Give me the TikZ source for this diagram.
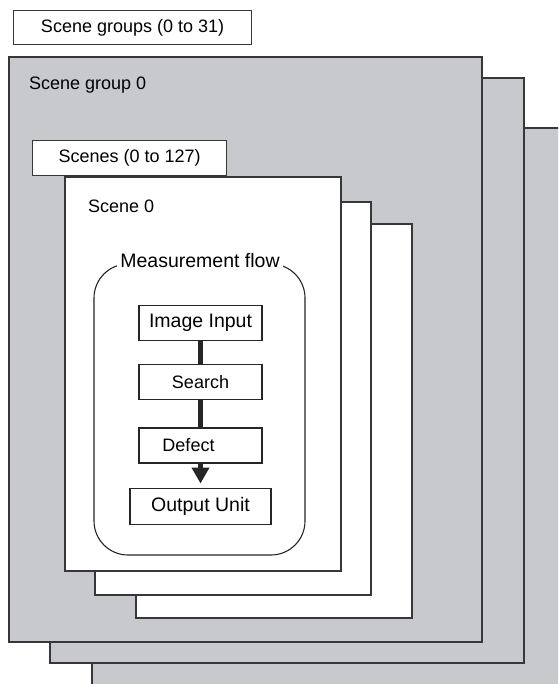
\documentclass[tikz,border=0pt]{standalone}
\usepackage{fontspec}
\setmainfont{Liberation Sans}
\usetikzlibrary{positioning,arrows.meta}

\definecolor{groupgray}{RGB}{200,201,204}
\definecolor{edgegray}{RGB}{55,55,58}

\tikzset{
    grouprect/.style={fill=groupgray, draw=edgegray, line width=1.2pt},
    scenerect/.style={fill=white, draw=edgegray, line width=1.2pt},
    tagbox/.style={draw=edgegray, fill=white, line width=1.1pt, inner sep=0pt,
        font=\fontsize{18}{20}\selectfont},
    plainlabel/.style={anchor=base west, inner sep=0pt, font=\fontsize{18}{20}\selectfont},
    procbox/.style={draw=black!85, fill=white, line width=1.2pt, inner sep=0pt,
        minimum width=123pt, minimum height=35pt, font=\fontsize{18}{20}\selectfont},
    link/.style={line width=4.3pt, draw=black!85}
}

\begin{document}
\begin{tikzpicture}[x=1pt, y=-1pt]
\clip (0,0) rectangle (558,684);

% scene groups, back to front -- gray
\draw[grouprect] (92,128) rectangle (620,720);
\draw[grouprect] (50,78) rectangle (524,663);
\draw[grouprect] (9,57) rectangle (482,642);
\node[tagbox, minimum width=238pt, minimum height=34pt, anchor=north west] (groups) at (13,10) {Scene groups (0 to 31)};
\node[plainlabel] (group0) at (29,90) {Scene group 0};

% scenes, back to front -- white
\draw[scenerect] (136,224) rectangle (412,618);
\draw[scenerect] (95,202) rectangle (371,595);
\draw[scenerect] (65,177) rectangle (341,571);
\node[tagbox, minimum width=194pt, minimum height=35pt, anchor=north west] (scenes) at (32,140) {Scenes (0 to 127)};
\node[plainlabel] (scene0) at (88,213) {Scene 0};

% measurement flow frame, label breaks the top line
\draw[draw=black!85, line width=1.1pt, rounded corners=34pt] (94,264) rectangle (305,555);
\node[fill=white, inner sep=3pt, font=\fontsize{19.5}{22}\selectfont] (flow) at (200,261) {Measurement flow};

% processing units
\node[procbox, font=\fontsize{19.5}{22}\selectfont] (input) at (200.5,323) {Image Input};
\node[procbox, below=23pt of input] (search) {Search};
\node[procbox, below=27pt of search] (defect) {Defect\hspace*{24pt}};
\node[procbox, minimum width=141pt, minimum height=36pt, below=24pt of defect,
    font=\fontsize{19.5}{22}\selectfont] (output) {Output Unit};

\draw[link] (input) -- (search);
\draw[link] (search) -- (defect);
\draw[link, -{Triangle[width=17pt,length=16pt]}, shorten >=4pt] (defect) -- (output);
\end{tikzpicture}
\end{document}
